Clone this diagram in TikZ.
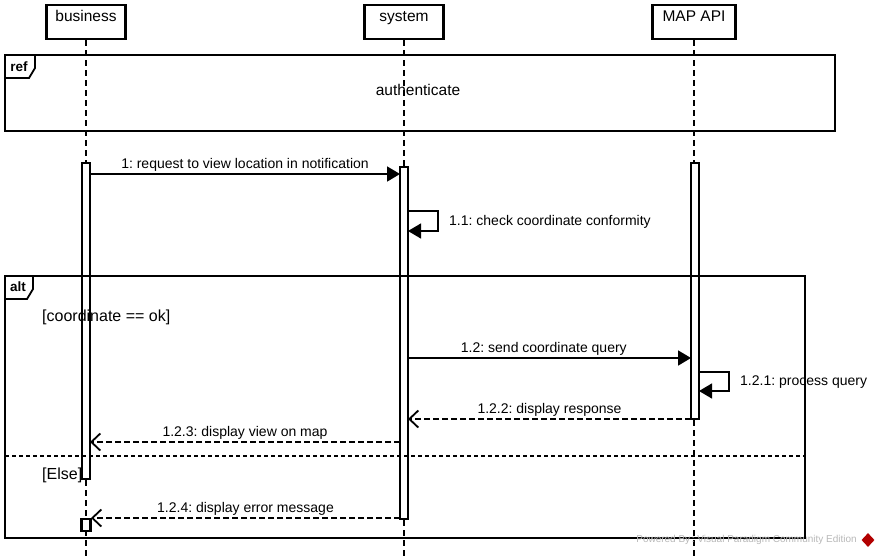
\documentclass[tikz,border=0pt]{standalone}
\usepackage{fontspec}
\setmainfont{Liberation Sans}
\usetikzlibrary{arrows.meta,shapes.geometric}
\frenchspacing
\begin{document}
\begin{tikzpicture}[x=1pt,y=-1pt,
  headbox/.style={draw, line width=2.4pt, minimum width=79pt, minimum height=34pt, inner sep=0pt, anchor=north,
     font=\fontsize{15.5}{17}\selectfont, text height=11pt, text depth=12pt},
  lifeline/.style={line width=1.1pt, dash pattern=on 6pt off 4pt},
  act/.style={draw, fill=white, line width=2.2pt, minimum width=8pt, inner sep=0pt, anchor=north},
  frame/.style={line width=2.6pt},
  tag/.style={font=\fontsize{13.5}{15}\selectfont\bfseries},
  lbl/.style={font=\fontsize{14}{16}\selectfont, inner sep=2pt},
  guard/.style={font=\fontsize{16}{18}\selectfont, inner sep=0pt, anchor=west},
  msg/.style={line width=1.8pt, -{Triangle[length=13pt,width=15pt]}},
  ret/.style={line width=1.8pt, dash pattern=on 6pt off 3pt, -{Straight Barb[length=9pt,width=17pt,line width=1.8pt]}},
  selfmsg/.style={line width=1.3pt, -{Triangle[length=13pt,width=15pt]}},
]
\useasboundingbox (0,0) rectangle (880,557);
\fill[white] (0,0) rectangle (880,557);

% headers
\node[headbox] (hb) at (86,4) {business};
\node[headbox] (hs) at (404,4) {system};
\node[headbox, minimum width=83pt] (hm) at (694,4) {MAP API};

% lifelines
\coordinate (eb) at (86,557);
\coordinate (es) at (404,557);
\coordinate (em) at (694,557);
\draw[lifeline] (hb.south) -- (eb);
\draw[lifeline] (hs.south) -- (es);
\draw[lifeline] (hm.south) -- (em);

% ref frame
\draw[frame] (5,55) rectangle (835,131);
\draw[line width=1.8pt] (5,78) -- (29,78) -- (35,68) -- (35,55);
\node[tag] (reftag) at (19,67) {ref};
\node[font=\fontsize{15.5}{17}\selectfont] (auth) at (418,90) {authenticate};

% activations
\node[act, minimum height=316pt] (ab) at (86,162) {};
\node[act, minimum height=352pt] (as) at (404,166) {};
\node[act, minimum height=256pt] (am) at (695,162) {};
\node[act, minimum width=9pt, minimum height=12pt] (ab2) at (86,518) {};

% alt frame
\draw[frame] (5,276) rectangle (805,538);
\draw[line width=1.8pt] (5,299) -- (27,299) -- (33,289) -- (33,276);
\node[tag] (alttag) at (18,287) {alt};
\draw[line width=1.1pt, dash pattern=on 4pt off 3pt] (5,456) -- (805,456);
\node[guard] (g1) at (42,317) {[coordinate == ok]};
\node[guard] (g2) at (42,475) {[Else]};

% message 1
\coordinate (m1a) at (90,174);
\coordinate (m1b) at (400,174);
\draw[msg] (m1a) -- node[above, lbl] {1: request to view location in notification} (m1b);

% 1.1 self
\coordinate (s1a) at (408,211);
\coordinate (s1b) at (438,211);
\coordinate (s1c) at (438,231);
\coordinate (s1d) at (408,231);
\draw[selfmsg] (s1a) -- (s1b) -- (s1c) -- (s1d);
\node[lbl, anchor=west, inner sep=0pt] (l11) at (449,222) {1.1: check coordinate conformity};

% 1.2
\coordinate (m2a) at (408,358);
\coordinate (m2b) at (691,358);
\draw[msg] (m2a) -- node[above, lbl, pos=0.48] {1.2: send coordinate query} (m2b);

% 1.2.1 self
\coordinate (s2a) at (699,372);
\coordinate (s2b) at (729,372);
\coordinate (s2c) at (729,391);
\coordinate (s2d) at (699,391);
\draw[selfmsg] (s2a) -- (s2b) -- (s2c) -- (s2d);
\node[lbl, anchor=west, inner sep=0pt] (l121) at (740,382) {1.2.1: process query};

% 1.2.2
\coordinate (r1a) at (691,419);
\coordinate (r1b) at (408,419);
\draw[ret] (r1a) -- node[above, lbl] {1.2.2: display response} (r1b);

% 1.2.3
\coordinate (r2a) at (400,442);
\coordinate (r2b) at (90,442);
\draw[ret] (r2a) -- node[above, lbl] {1.2.3: display view on map} (r2b);

% 1.2.4
\coordinate (r3a) at (400,518);
\coordinate (r3b) at (91,518);
\draw[ret] (r3a) -- node[above, lbl] {1.2.4: display error message} (r3b);

% watermark
\node[font=\fontsize{10}{12}\selectfont, text=gray!55, anchor=east, inner sep=0pt] (wm) at (857,540) {Powered By\,: Visual Paradigm Community Edition};
\node[diamond, fill=red!70!black, minimum width=13pt, minimum height=14pt, inner sep=0pt] (logo) at (868,540) {};
\end{tikzpicture}
\end{document}
